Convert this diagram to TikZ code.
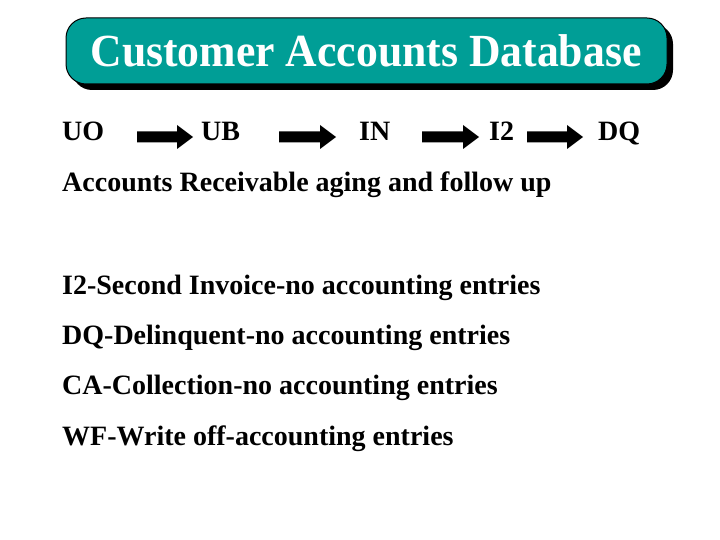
\documentclass[tikz,border=0pt]{standalone}
\usepackage{fontspec}
\setmainfont{Liberation Serif}
\definecolor{teal1}{RGB}{0,158,150}
\begin{document}
\begin{tikzpicture}[x=1pt,y=-1pt,
  lbl/.style={anchor=base west,inner sep=0pt,font=\bfseries\fontsize{28}{30}\selectfont},
  fatarrow/.style={fill=black,draw=none}]
\useasboundingbox (0,0) rectangle (720,540);
% title
\fill[black,rounded corners=20pt] (72,24) rectangle (673,90);
\draw[fill=teal1,draw=black,line width=1pt,rounded corners=20pt] (66,18) rectangle (667,84);
\node[anchor=base,inner sep=0pt,text=white,font=\bfseries\fontsize{46}{48}\selectfont,xscale=0.95] (title) at (366,67) {Customer Accounts Database};
% status row
\node[lbl] (uo) at (62,141) {UO};
\node[lbl] (ub) at (201,141) {UB};
\node[lbl] (in) at (359,141) {IN};
\node[lbl] (i2) at (489,141) {I2};
\node[lbl] (dq) at (598,141) {DQ};
\foreach \s/\e in {137/193,279/336,422/479,527/583}{
  \fill[fatarrow] (\s,131.5) -- (\e-16,131.5) -- (\e-16,125) -- (\e,137) -- (\e-16,149) -- (\e-16,142.5) -- (\s,142.5) -- cycle;
}
\node[lbl] (ar) at (62,192) {Accounts Receivable aging and follow up};
\node[lbl] (l1) at (62,294) {I2-Second Invoice-no accounting entries};
\node[lbl] (l2) at (62,344) {DQ-Delinquent-no accounting entries};
\node[lbl] (l3) at (62,394) {CA-Collection-no accounting entries};
\node[lbl] (l4) at (62,445) {WF-Write off-accounting entries};
\end{tikzpicture}
\end{document}
